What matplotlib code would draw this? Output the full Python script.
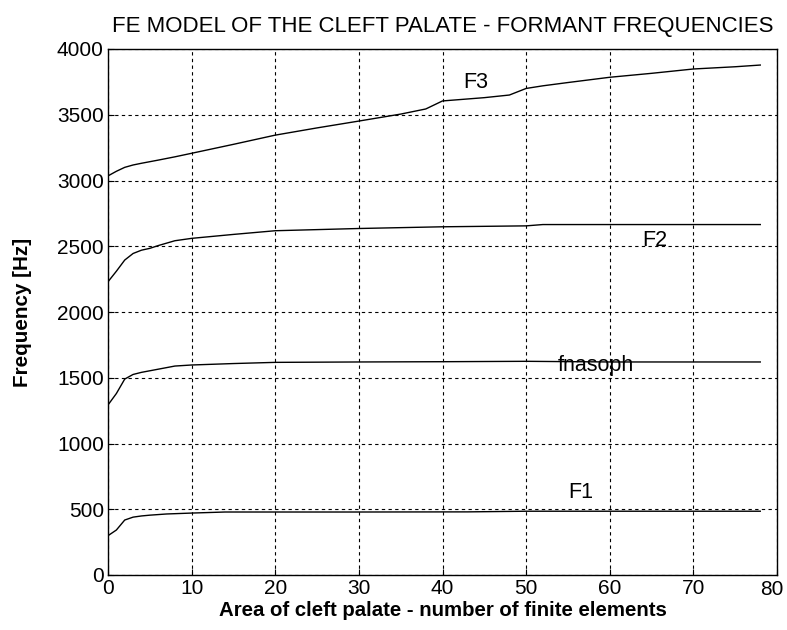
import matplotlib
matplotlib.use("Agg")
import matplotlib.pyplot as plt
import matplotlib.ticker as mticker

plt.rcParams['font.family'] = ['Liberation Sans', 'DejaVu Sans']

# Data
f3_x = [0, 1, 2, 3, 4, 6, 8, 10, 15, 20, 25, 30, 35, 38, 40, 45, 48, 50, 52, 55, 60, 65, 70, 75, 78]
f3_y = [3035, 3070, 3100, 3118, 3131, 3155, 3180, 3207, 3275, 3345, 3400, 3452, 3505, 3544, 3605, 3630, 3650, 3700, 3720, 3745, 3785, 3815, 3848, 3865, 3878]

f2_x = [0, 1, 2, 3, 4, 5, 6, 8, 10, 15, 20, 30, 40, 50, 52, 60, 70, 78]
f2_y = [2230, 2310, 2395, 2445, 2470, 2484, 2505, 2542, 2560, 2590, 2618, 2635, 2648, 2655, 2665, 2665, 2665, 2665]

fn_x = [0, 1, 2, 3, 4, 6, 8, 10, 15, 20, 30, 40, 50, 60, 70, 78]
fn_y = [1293, 1380, 1490, 1525, 1541, 1565, 1589, 1597, 1608, 1617, 1620, 1622, 1625, 1620, 1620, 1620]

f1_x = [0, 1, 2, 3, 4, 5, 7, 10, 14, 20, 30, 43, 50, 60, 70, 78]
f1_y = [299, 342, 418, 440, 449, 455, 464, 471, 479, 479, 479, 480, 485, 485, 485, 485]

labels = ["F3", "F2", "fnasoph", "F1"]
label_pos = [(44, 3745), (65.4, 2545), (58.3, 1590), (56.5, 631)]

xticks = [0, 10, 20, 30, 40, 50, 60, 70, 80]
yticks = [0, 500, 1000, 1500, 2000, 2500, 3000, 3500, 4000]

fig = plt.figure(figsize=(7.87, 6.30), dpi=100)
ax = fig.add_axes([108/787, 1 - 575/630, (777 - 108)/787, (575 - 49)/630])

for xs, ys in [(f3_x, f3_y), (f2_x, f2_y), (fn_x, fn_y), (f1_x, f1_y)]:
    ax.plot(xs, ys, color='black', linewidth=1.0)

for lab, (lx, ly) in zip(labels, label_pos):
    ax.text(lx, ly, lab, fontsize=15.5, ha='center', va='center', color='black')

ax.set_xlim(0, 80)
ax.set_ylim(0, 4000)
ax.set_xticks(xticks)
ax.set_yticks(yticks)
# last x tick label is drawn separately (shifted left, as in the reference)
ax.xaxis.set_major_formatter(mticker.FuncFormatter(
    lambda v, p: "" if v == xticks[-1] else f"{v:g}"))
ax.tick_params(direction='in', length=4, labelsize=15, colors='black', pad=3)
ax.annotate(f"{xticks[-1]:g}", xy=(xticks[-1], 0), xycoords=('data', 'axes fraction'),
            xytext=(-4, -3.5), textcoords='offset points', ha='center', va='top',
            fontsize=15, color='black', annotation_clip=False)
ax.grid(True, color='black', linestyle=(0, (3, 3)), linewidth=0.8)
for s in ax.spines.values():
    s.set_color('black')
    s.set_linewidth(1.0)

ax.set_title("FE MODEL OF THE CLEFT PALATE - FORMANT FREQUENCIES", fontsize=16, pad=12)
ax.set_xlabel("Area of cleft palate - number of finite elements", fontsize=14.7, fontweight='bold', labelpad=2)
ax.set_ylabel("Frequency [Hz]", fontsize=14.9, fontweight='bold', labelpad=18)

fig.savefig("out.png", dpi=100)
